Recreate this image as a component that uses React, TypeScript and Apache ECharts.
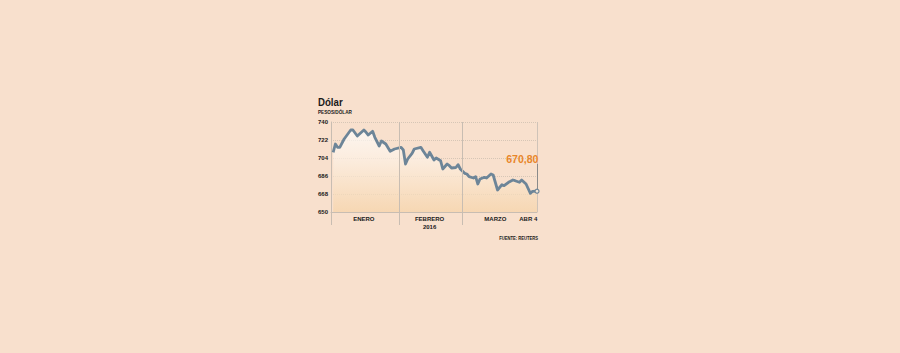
import React, { useEffect, useRef } from "react";
import * as echarts from "echarts";

const dates = [
  "2016-01-02", "2016-01-03", "2016-01-04", "2016-01-05", "2016-01-07", "2016-01-10", "2016-01-11", "2016-01-13",
  "2016-01-16", "2016-01-17", "2016-01-18", "2016-01-20", "2016-01-21", "2016-01-23", "2016-01-24", "2016-01-26",
  "2016-01-28", "2016-01-30",
  "2016-02-02", "2016-02-03", "2016-02-04", "2016-02-05", "2016-02-07", "2016-02-08", "2016-02-11", "2016-02-12",
  "2016-02-14", "2016-02-15", "2016-02-17", "2016-02-18", "2016-02-20", "2016-02-21", "2016-02-23", "2016-02-24",
  "2016-02-25", "2016-02-27", "2016-02-28", "2016-02-29",
  "2016-03-02", "2016-03-03", "2016-03-04", "2016-03-06", "2016-03-07", "2016-03-08", "2016-03-09", "2016-03-11",
  "2016-03-12", "2016-03-14", "2016-03-15", "2016-03-17", "2016-03-19", "2016-03-20", "2016-03-22", "2016-03-24",
  "2016-03-25", "2016-03-27", "2016-03-28", "2016-03-30",
  "2016-04-01", "2016-04-02", "2016-04-04",
];

const values = [
  709.7, 718, 714.7, 714.7, 723, 732, 732, 726,
  732, 729.7, 727, 730.7, 724.7, 716, 721, 718,
  710.7, 713,
  714.7, 712, 698, 703, 708.7, 713, 714.7, 711.3,
  704.7, 709.7, 702, 704, 701.3, 693, 698, 696.3,
  694, 694.5, 697.3, 693,
  688.7, 688, 685.3, 684, 685.3, 678, 683, 684.7,
  684, 688, 687, 672, 677.3, 676.3, 679.7, 682,
  681.3, 679.7, 682, 678,
  668.7, 670.7, 670.8,
];

const yTicks = [650, 668, 686, 704, 722, 740];
const monthStarts = ["2016-02-01", "2016-03-01"];
const monthLabels = [
  { date: "2016-01-16", text: "ENERO" },
  { date: "2016-02-15", text: "FEBRERO\n2016" },
  { date: "2016-03-16", text: "MARZO" },
  { date: "2016-03-31", text: "ABR 4" },
];
const startDate = "2016-01-01";
const endDate = "2016-04-04";
const lastLabel = "670,80";
const titleText = "Dólar";
const subtitleText = "PESOS/DÓLAR";
const sourceText = "FUENTE: REUTERS";

const FONT = "'Liberation Sans', Arial, sans-serif";

function dayIndex(s: string): number {
  const [y, m, d] = s.split("-").map(Number);
  return (Date.UTC(y, m - 1, d) - Date.UTC(2016, 0, 1)) / 86400000;
}

export default function App() {
  const ref = useRef<HTMLDivElement>(null);
  useEffect(() => {
    document.body.style.margin = "0";
    const chart = echarts.init(ref.current!, null, { renderer: "svg" });
    const data = dates.map((d, i) => [dayIndex(d), values[i]]);
    const last = data[data.length - 1];
    const labelDays = monthLabels.map((m) => dayIndex(m.date));
    const labelMap: Record<number, string> = {};
    monthLabels.forEach((m) => (labelMap[dayIndex(m.date)] = m.text));
    const endDay = dayIndex(endDate);

    chart.setOption({
      animation: false,
      backgroundColor: "#f8e0cd",
      graphic: [
        {
          type: "text",
          x: 318,
          y: 97,
          scaleX: 0.92,
          style: {
            text: titleText,
            fontFamily: FONT,
            fontWeight: "bold",
            fontSize: 10.5,
            fill: "#1a1a1a",
            textVerticalAlign: "top",
          },
        },
        {
          type: "text",
          x: 318,
          y: 109,
          scaleX: 0.85,
          style: {
            text: subtitleText,
            fontFamily: FONT,
            fontWeight: "bold",
            fontSize: 5.5,
            fill: "#1a1a1a",
            textVerticalAlign: "top",
          },
        },
        {
          type: "text",
          x: 538,
          y: 238,
          scaleX: 0.83,
          style: {
            text: sourceText,
            fontFamily: FONT,
            fontWeight: "bold",
            fontSize: 5,
            fill: "#1a1a1a",
            textAlign: "right",
            textVerticalAlign: "middle",
          },
        },
      ],
      grid: { left: 331, right: 363, top: 122, bottom: 141, containLabel: false },
      xAxis: {
        type: "value",
        min: dayIndex(startDate),
        max: endDay,
        axisLine: { show: true, lineStyle: { color: "#c8bdb2", width: 1 }, onZero: false },
        splitLine: { show: false },
        axisTick: {
          show: true,
          customValues: [0, ...monthStarts.map(dayIndex)],
          length: 13,
          lineStyle: { color: "#c8bdb2" },
        },
        axisLabel: {
          show: true,
          customValues: labelDays,
          formatter: (v: number) => labelMap[v] || "",
          fontFamily: FONT,
          fontWeight: "bold",
          fontSize: 6,
          color: "#1a1a1a",
          margin: 3,
          lineHeight: 8,
        },
      },
      yAxis: {
        type: "value",
        min: yTicks[0],
        max: yTicks[yTicks.length - 1],
        interval: 18,
        axisLine: { show: true, lineStyle: { color: "#c8bdb2", width: 1 } },
        axisTick: { show: false },
        splitLine: { show: true, lineStyle: { color: "#d6c6b6", type: [1, 1], width: 1 } },
        axisLabel: {
          fontFamily: FONT,
          fontWeight: "bold",
          fontSize: 6,
          color: "#1a1a1a",
          margin: 3,
        },
      },
      series: [
        {
          type: "line",
          data,
          showSymbol: false,
          symbol: "none",
          lineStyle: { color: "#6d8598", width: 2.8, join: "round" },
          areaStyle: {
            color: new echarts.graphic.LinearGradient(0, 0, 0, 1, [
              { offset: 0, color: "rgba(255,255,255,0.97)" },
              { offset: 0.35, color: "#fdf2e6" },
              { offset: 1, color: "#f6d3a8" },
            ]),
          },
          z: 3,
          markLine: {
            silent: true,
            symbol: "none",
            label: { show: false },
            data: [
              ...monthStarts.map((d) => ({ xAxis: dayIndex(d), lineStyle: { color: "#c8bdb2", type: "solid", width: 1 } })),
              { xAxis: endDay, lineStyle: { color: "#cfc3b8", type: "solid", width: 1 } },
              [
                { coord: [last[0], 698], lineStyle: { color: "#8a8a8a", type: "solid", width: 1 } },
                { coord: [last[0], last[1]] },
              ],
            ],
          },
          markPoint: {
            silent: true,
            data: [
              {
                coord: last,
                symbol: "circle",
                symbolSize: 4,
                itemStyle: { color: "#f3e6d6", borderColor: "#6d8598", borderWidth: 1.2 },
                label: {
                  show: true,
                  formatter: lastLabel,
                  position: [4, -30],
                  align: "right",
                  verticalAlign: "middle",
                  fontFamily: FONT,
                  fontWeight: "bold",
                  fontSize: 10.5,
                  color: "#e8862a",
                },
              },
            ],
          },
        },
      ],
    });
    return () => chart.dispose();
  }, []);
  return <div ref={ref} style={{ position: "absolute", left: 0, top: 0, width: 900, height: 353 }} />;
}
